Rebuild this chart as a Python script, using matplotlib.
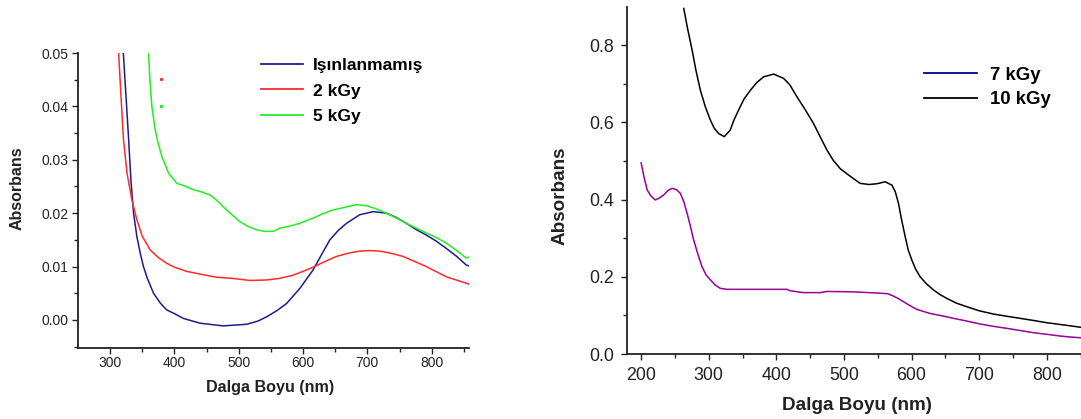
import matplotlib
matplotlib.use("Agg")
import matplotlib.pyplot as plt
from matplotlib.lines import Line2D
from matplotlib.ticker import MultipleLocator, FormatStrFormatter

plt.rcParams['font.family'] = ['Liberation Sans', 'DejaVu Sans']

# ---- Left panel data (Dalga Boyu nm, Absorbans) ----
blue_x = [320.7, 329, 332.5, 336.6, 341.8, 347, 352, 358, 367.7, 378, 388, 400, 414,
          440, 476, 512.5, 530, 543.5, 560, 574.5, 595, 615.8, 630, 641.7, 655, 667.6,
          688, 709, 729.6, 745, 760.7, 775, 791.7, 808, 822.7, 838, 853.8, 858]
blue_y = [0.050, 0.0337, 0.0262, 0.020, 0.0156, 0.0125, 0.010, 0.0078, 0.005, 0.0032,
          0.0019, 0.0012, 0.0003, -0.0006, -0.0011, -0.0008, -0.0002, 0.0006, 0.0018,
          0.0031, 0.0059, 0.0094, 0.0125, 0.015, 0.0168, 0.0181, 0.0197, 0.0203, 0.020,
          0.0192, 0.0181, 0.017, 0.0159, 0.0147, 0.0134, 0.012, 0.0103, 0.0101]

red_x = [313.4, 317, 321, 326.4, 334, 341.8, 350, 362.5, 375, 388.4, 400, 419.4, 440,
         466, 490, 517.6, 543.5, 564, 584.8, 600, 615.8, 635, 652, 670, 688, 704, 719,
         737, 755.5, 773, 791.7, 808, 822.7, 838, 853.8, 858]
red_y = [0.050, 0.042, 0.0337, 0.0275, 0.0225, 0.01875, 0.0157, 0.0131, 0.0117, 0.0106,
         0.0099, 0.0091, 0.0086, 0.008, 0.0078, 0.0074, 0.0075, 0.0078, 0.0084, 0.0091,
         0.0099, 0.011, 0.0119, 0.0125, 0.0129, 0.013, 0.0129, 0.0125, 0.0119, 0.011,
         0.010, 0.009, 0.0081, 0.0075, 0.0069, 0.0067]

green_x = [360, 362, 365, 370.3, 375, 380.7, 391, 404, 416, 429.7, 442, 455.6, 465, 476,
           489, 502, 515, 528, 540, 553.8, 564, 580, 595, 616, 631, 646.8, 665, 683,
           698.6, 714, 729.6, 745, 760.7, 776, 791.7, 808, 822.7, 838, 853.8, 858]
green_y = [0.050, 0.045, 0.040, 0.0356, 0.033, 0.0306, 0.0275, 0.0256, 0.0251, 0.0244,
           0.0240, 0.0234, 0.0225, 0.0212, 0.0198, 0.0184, 0.0175, 0.0169, 0.0166, 0.0166,
           0.0172, 0.0176, 0.0181, 0.0191, 0.0199, 0.0206, 0.0211, 0.0216, 0.0214, 0.0208,
           0.020, 0.0191, 0.0181, 0.0172, 0.0163, 0.0154, 0.0144, 0.0131, 0.0116, 0.0118]

# stray single points in the original
red_dot = (380, 0.0452)
green_dot = (380, 0.0400)

left_labels = ['Işınlanmamış', '2 kGy', '5 kGy']

# ---- Right panel data ----
k10_x = [263, 269, 275.4, 281, 287.6, 295, 302.4, 308, 314.7, 323, 331.8, 337, 344.2,
         352, 361.5, 371, 381.2, 396, 410.7, 420, 430.5, 443, 455, 465, 474.9, 484,
         494.5, 508, 524, 537, 548.8, 561, 570.9, 576, 580.7, 585, 590.6, 595, 600.5,
         606, 612.7, 622, 632.4, 642, 652.2, 666, 681.7, 700, 721, 740, 760.5, 780,
         800, 822, 844.3, 851]
k10_y = [0.895, 0.84, 0.787, 0.735, 0.683, 0.64, 0.606, 0.585, 0.571, 0.563, 0.580,
         0.605, 0.632, 0.66, 0.683, 0.703, 0.718, 0.725, 0.714, 0.697, 0.666, 0.632,
         0.597, 0.562, 0.528, 0.502, 0.480, 0.462, 0.442, 0.439, 0.441, 0.446, 0.4375,
         0.42, 0.39, 0.35, 0.304, 0.27, 0.243, 0.22, 0.200, 0.182, 0.166, 0.154, 0.144,
         0.132, 0.1225, 0.112, 0.1036, 0.098, 0.0924, 0.087, 0.081, 0.076, 0.0707, 0.069]

k7_x = [200, 204, 208.9, 214, 221, 227, 233.4, 240, 245.8, 252, 258, 263, 268, 273,
        277.7, 284, 290, 296, 302.4, 310, 317.2, 327, 415.8, 420, 440.3, 465, 475, 514,
        558.5, 565, 573.3, 580, 588, 598, 607.9, 627.5, 645, 662, 680, 701.4, 720,
        740.9, 760, 780.2, 800, 819.6, 835, 851]
k7_y = [0.495, 0.46, 0.425, 0.41, 0.399, 0.404, 0.412, 0.424, 0.429, 0.426, 0.416,
        0.395, 0.364, 0.33, 0.295, 0.258, 0.226, 0.205, 0.192, 0.178, 0.170, 0.1675,
        0.1675, 0.164, 0.159, 0.159, 0.162, 0.161, 0.157, 0.156, 0.150, 0.144, 0.1355,
        0.125, 0.1155, 0.105, 0.099, 0.0924, 0.086, 0.0777, 0.072, 0.0665, 0.061,
        0.0552, 0.051, 0.0466, 0.044, 0.0420]

right_labels = ['7 kGy', '10 kGy']

W, H = 1081, 419
fig = plt.figure(figsize=(W / 100, H / 100), dpi=100)


def px_box(x0, y0, x1, y1):
    """axes rectangle from pixel edges (y measured from top)"""
    return [x0 / W, 1 - y1 / H, (x1 - x0) / W, (y1 - y0) / H]


def style(ax):
    for s in ['top', 'right']:
        ax.spines[s].set_visible(False)
    for s in ['left', 'bottom']:
        ax.spines[s].set_linewidth(1.3)
        ax.spines[s].set_color('#222222')
    ax.tick_params(which='major', direction='out', length=4, width=1.0, color='#222222')
    ax.tick_params(which='minor', direction='out', length=3, width=1.0, color='#222222')


# ---------------- Left axes ----------------
LX0, LY0, LX1, LY1 = 78.3, 53, 469.3, 348.3
axL = fig.add_axes(px_box(LX0, LY0, LX1, LY1))
axL.plot(blue_x, blue_y, color='#1c1c8e', lw=1.1)
axL.plot(red_x, red_y, color='#ff2a2a', lw=1.1)
axL.plot(green_x, green_y, color='#22ee22', lw=1.1)
axL.plot(*red_dot, marker='s', ms=1.2, color='#ff2a2a', lw=0)
axL.plot(*green_dot, marker='s', ms=1.2, color='#22ee22', lw=0)
axL.set_xlim(250.7, 858.5)
axL.set_ylim(-0.0053, 0.05)
axL.xaxis.set_major_locator(MultipleLocator(100))
axL.xaxis.set_minor_locator(MultipleLocator(50))
axL.yaxis.set_major_locator(MultipleLocator(0.01))
axL.yaxis.set_minor_locator(MultipleLocator(0.005))
axL.yaxis.set_major_formatter(FormatStrFormatter('%.2f'))
style(axL)
axL.tick_params(axis='x', which='major', labelsize=10, pad=1.5, labelcolor='#222222')
axL.tick_params(axis='y', which='major', labelsize=10, pad=3, labelcolor='#222222')
axL.set_xlabel('Dalga Boyu (nm)', fontsize=11.6, fontweight='bold', va='center', color='#222222')
axL.xaxis.set_label_coords((270 - LX0) / (LX1 - LX0), (LY1 - 387) / (LY1 - LY0))
axL.set_ylabel('Absorbans', fontsize=11.5, fontweight='bold', va='center', color='#222222')
axL.yaxis.set_label_coords((17 - LX0) / (LX1 - LX0), (LY1 - 188) / (LY1 - LY0))
hL = [Line2D([], [], color='#1c1c8e', lw=1.3),
      Line2D([], [], color='#ff2a2a', lw=1.3),
      Line2D([], [], color='#22ee22', lw=1.3)]
axL.legend(hL, left_labels, loc='upper left', bbox_to_anchor=(261 / W, 1 - 57.5 / H),
           bbox_transform=fig.transFigure, borderpad=0, borderaxespad=0,
           frameon=False, prop={'weight': 'bold', 'size': 12.5},
           handlelength=2.4, handletextpad=0.57, labelspacing=0.62)

# ---------------- Right axes ----------------
RX0, RY0, RX1, RY1 = 626.5, 7.3, 1081, 354
axR = fig.add_axes(px_box(RX0, RY0, RX1, RY1))
axR.plot(k7_x, k7_y, color='#990099', lw=1.1)
axR.plot(k10_x, k10_y, color='black', lw=1.1)
axR.set_xlim(178.3, 850.7)
axR.set_ylim(0, 0.898)
axR.xaxis.set_major_locator(MultipleLocator(100))
axR.xaxis.set_minor_locator(MultipleLocator(50))
axR.yaxis.set_major_locator(MultipleLocator(0.2))
axR.yaxis.set_minor_locator(MultipleLocator(0.1))
axR.yaxis.set_major_formatter(FormatStrFormatter('%.1f'))
style(axR)
axR.set_xticks([200, 300, 400, 500, 600, 700, 800])
axR.tick_params(axis='both', which='major', labelsize=12.8, pad=5, labelcolor='#222222')
axR.set_xlabel('Dalga Boyu (nm)', fontsize=13.6, fontweight='bold', va='center', color='#222222')
axR.xaxis.set_label_coords((857.5 - RX0) / (RX1 - RX0), (RY1 - 405) / (RY1 - RY0))
axR.set_ylabel('Absorbans', fontsize=13.6, fontweight='bold', va='center', color='#222222')
axR.yaxis.set_label_coords((560 - RX0) / (RX1 - RX0), (RY1 - 196) / (RY1 - RY0))
hR = [Line2D([], [], color='#000099', lw=1.3),
      Line2D([], [], color='black', lw=1.3)]
axR.legend(hR, right_labels, loc='upper left', bbox_to_anchor=(924 / W, 1 - 66.5 / H),
           bbox_transform=fig.transFigure, borderpad=0, borderaxespad=0,
           frameon=False, prop={'weight': 'bold', 'size': 13.4},
           handlelength=2.85, handletextpad=0.7, labelspacing=0.42)

fig.savefig('out.png', dpi=100)
